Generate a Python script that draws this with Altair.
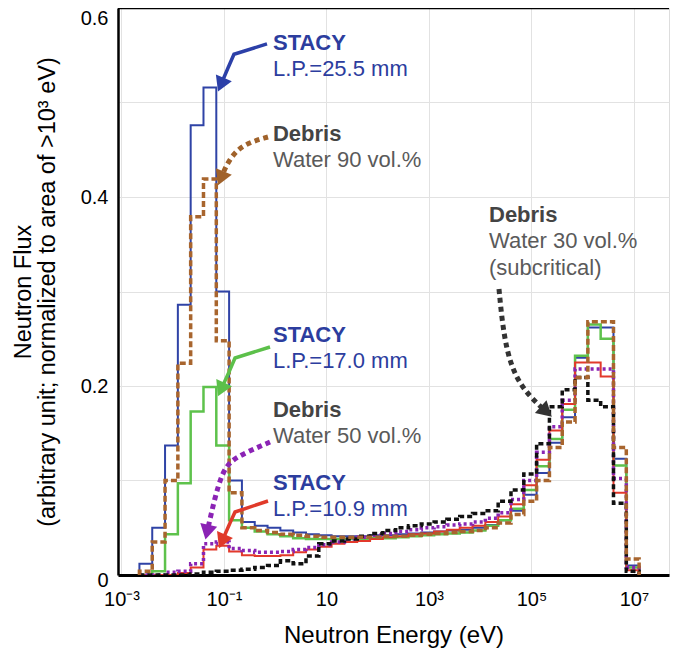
import math
import altair as alt
import pandas as pd

# ---------------- data ----------------
# energy-group edges, log10(E / eV)
log_edges = [-2.65, -2.40, -2.15, -1.90, -1.65, -1.40, -1.15, -0.90, -0.65, -0.40,
             -0.15, 0.10, 0.35, 0.60, 0.85, 1.10, 1.35, 1.60, 1.85, 2.10,
             2.35, 2.60, 2.85, 3.10, 3.35, 3.60, 3.85, 4.10, 4.35, 4.60,
             4.85, 5.10, 5.35, 5.60, 5.85, 6.10, 6.35, 6.60, 6.85, 7.10]

stacy_255 = [0.012, 0.050, 0.137, 0.286, 0.476, 0.516, 0.300, 0.100, 0.056, 0.052,
             0.050, 0.047, 0.045, 0.043, 0.042, 0.041, 0.041, 0.041, 0.042, 0.042,
             0.043, 0.044, 0.045, 0.046, 0.047, 0.048, 0.050, 0.053, 0.058, 0.068,
             0.085, 0.108, 0.140, 0.167, 0.230, 0.262, 0.262, 0.123, 0.010]
debris_90 = [0.004, 0.035, 0.100, 0.224, 0.379, 0.419, 0.248, 0.087, 0.050, 0.047,
             0.045, 0.043, 0.042, 0.041, 0.040, 0.040, 0.040, 0.040, 0.040, 0.041,
             0.041, 0.042, 0.043, 0.044, 0.045, 0.046, 0.047, 0.050, 0.055, 0.064,
             0.078, 0.100, 0.135, 0.162, 0.209, 0.268, 0.268, 0.135, 0.017]
stacy_170 = [0.000, 0.004, 0.043, 0.097, 0.173, 0.199, 0.137, 0.058, 0.050, 0.046,
             0.043, 0.041, 0.039, 0.038, 0.038, 0.038, 0.038, 0.038, 0.039, 0.039,
             0.040, 0.041, 0.042, 0.043, 0.044, 0.045, 0.047, 0.052, 0.058, 0.070,
             0.090, 0.115, 0.144, 0.175, 0.232, 0.265, 0.250, 0.116, 0.008]
stacy_109 = [0.000, 0.000, 0.000, 0.002, 0.008, 0.027, 0.031, 0.025, 0.021, 0.020,
             0.020, 0.021, 0.024, 0.027, 0.030, 0.033, 0.035, 0.036, 0.038, 0.040,
             0.041, 0.043, 0.044, 0.046, 0.048, 0.050, 0.052, 0.056, 0.062, 0.075,
             0.095, 0.122, 0.153, 0.181, 0.225, 0.225, 0.210, 0.087, 0.005]
debris_50 = [0.000, 0.000, 0.003, 0.004, 0.012, 0.033, 0.035, 0.028, 0.026, 0.024,
             0.024, 0.025, 0.027, 0.029, 0.032, 0.035, 0.038, 0.040, 0.042, 0.044,
             0.046, 0.048, 0.050, 0.051, 0.053, 0.054, 0.056, 0.060, 0.066, 0.080,
             0.100, 0.130, 0.157, 0.185, 0.218, 0.218, 0.218, 0.102, 0.008]
debris_30 = [0.000, 0.000, 0.000, 0.000, 0.001, 0.003, 0.004, 0.005, 0.006, 0.008,
             0.010, 0.015, 0.012, 0.020, 0.033, 0.036, 0.038, 0.041, 0.044, 0.047,
             0.050, 0.052, 0.054, 0.056, 0.059, 0.062, 0.065, 0.068, 0.078, 0.090,
             0.107, 0.139, 0.178, 0.196, 0.209, 0.185, 0.178, 0.076, 0.004]

x_tick_exps = [-3, -1, 1, 3, 5, 7]
x_tick_labels = ["10⁻³", "10⁻¹", "10", "10³", "10⁵", "10⁷"]
y_ticks = [0, 0.1, 0.2, 0.3, 0.4, 0.5, 0.6]

# annotations: (log10 E, flux, bold line, normal line(s), colours)
BLUE_T = "#2c3d9e"
GRAY_B = "#444444"
GRAY_N = "#5a5a5a"
labels = [
    (-0.044, 0.563, "STACY", ["L.P.=25.5 mm"], BLUE_T, BLUE_T),
    (-0.044, 0.4667, "Debris", ["Water 90 vol.%"], GRAY_B, GRAY_N),
    (-0.044, 0.254, "STACY", ["L.P.=17.0 mm"], BLUE_T, BLUE_T),
    (-0.044, 0.1746, "Debris", ["Water 50 vol.%"], GRAY_B, GRAY_N),
    (-0.044, 0.0974, "STACY", ["L.P.=10.9 mm"], BLUE_T, BLUE_T),
    (4.171, 0.381, "Debris", ["Water 30 vol.%", "(subcritical)"], GRAY_B, GRAY_N),
]
LINE_STEP = 0.028

# arrows: path in (log10 E, flux), colour, dotted?
arrows = [
    ([(-0.161, 0.562), (-0.805, 0.551), (-0.922, 0.5365), (-1.098, 0.514)], "#2c40a8", False),
    ([(-0.141, 0.4635), (-0.629, 0.456), (-0.902, 0.440), (-1.098, 0.4148)], "#a0622b", True),
    ([(-0.102, 0.2413), (-0.785, 0.2296), (-0.902, 0.2148), (-1.098, 0.1915)], "#5cc04a", False),
    ([(-0.102, 0.1407), (-0.551, 0.1302), (-0.883, 0.1206), (-1.039, 0.1069), (-1.176, 0.0825), (-1.351, 0.0402)], "#8b23b5", True),
    ([(-0.141, 0.0783), (-0.785, 0.0667), (-0.883, 0.055), (-1.078, 0.0307)], "#e03a2a", False),
    ([(4.366, 0.3026), (4.424, 0.2698), (4.522, 0.236), (4.698, 0.2085), (4.971, 0.1884), (5.361, 0.1693)], "#333333", True),
]

# ---------------- layout ----------------
W, H = 551, 567
X_LO = -3.068
X_HI = X_LO + W / 51.25
FONT = "Liberation Sans"

x_scale = alt.Scale(type="log", domain=[10 ** X_LO, 10 ** X_HI], nice=False)
y_scale = alt.Scale(domain=[0, 0.6], nice=False, zero=True)

label_arr = "[" + ",".join("'%s'" % s for s in
                           ["10⁻³", "", "10⁻¹", "", "10", "", "10³", "", "10⁵", "", "10⁷"]) + "]"
x_axis = alt.Axis(
    values=[10.0 ** e for e in x_tick_exps],
    labelExpr=label_arr + "[round(log(datum.value)/LN10)+3]",
    title="Neutron Energy (eV)",
    grid=True, gridColor="#e2e2e2", gridWidth=1,
    ticks=False, domainColor="black", domainWidth=3,
    labelFont=FONT, labelFontSize=20, labelColor="black", labelPadding=14,
    titleFont=FONT, titleFontSize=24, titleFontWeight="normal", titleColor="black",
    titlePadding=14, labelFlush=False,
)
y_axis = alt.Axis(
    values=y_ticks, format=".1~f",
    labelExpr="(datum.label == '0.1' || datum.label == '0.3' || datum.label == '0.5') ? '' : datum.label",
    labelOffset={"condition": [{"test": "datum.value > 0.55", "value": 10},
                               {"test": "datum.value < 0.05", "value": 5}],
                 "value": 0},
    title=["Neutron Flux", "(arbitrary unit; normalized to area of >10³ eV)"],
    grid=True, gridColor="#e2e2e2", gridWidth=1,
    ticks=False, domainColor="black", domainWidth=2.5,
    labelFont=FONT, labelFontSize=20, labelColor="black", labelPadding=10,
    titleFont=FONT, titleFontSize=23.5, titleFontWeight="normal", titleColor="black",
    titlePadding=21, titleLineHeight=24,
)


def X():
    return alt.X("E:Q", scale=x_scale, axis=x_axis)


def Y():
    return alt.Y("f:Q", scale=y_scale, axis=y_axis)


def step_frame(vals):
    rows = [{"i": 0, "E": 10 ** log_edges[0], "f": 0.0}]
    for k, v in enumerate(vals):
        rows.append({"i": k + 1, "E": 10 ** log_edges[k], "f": v})
    rows.append({"i": len(vals) + 1, "E": 10 ** log_edges[-1], "f": 0.0})
    return pd.DataFrame(rows)


series = [
    (stacy_255, "#2f43a6", 2.0, None),
    (stacy_170, "#5ec24c", 2.5, None),
    (stacy_109, "#e2392b", 2.0, None),
    (debris_50, "#8a25b3", 3.5, [3, 3]),
    (debris_30, "#111111", 3.5, [5, 3]),
    (debris_90, "#a8652e", 3.5, [6, 3]),
]

layers = []
for vals, col, sw, dash in series:
    kw = dict(interpolate="step-after", color=col, strokeWidth=sw, strokeCap="butt", clip=True)
    if dash:
        kw["strokeDash"] = dash
    layers.append(
        alt.Chart(step_frame(vals)).mark_line(**kw).encode(x=X(), y=Y(), order="i:Q")
    )


# ---- arrows ----
def to_px(le, f):
    return ((le - X_LO) / (X_HI - X_LO) * W, H - f / 0.6 * H)


def to_data(px, py):
    return (X_LO + px / W * (X_HI - X_LO), (H - py) / H * 0.6)


HEAD_SIZE = 300
hh = math.sqrt(3) / 2 * math.sqrt(HEAD_SIZE) / 2
for path, col, dotted in arrows:
    p0 = to_px(*path[-2])
    p1 = to_px(*path[-1])
    dx, dy = p1[0] - p0[0], p1[1] - p0[1]
    n = math.hypot(dx, dy)
    ux, uy = dx / n, dy / n
    ang = math.degrees(math.atan2(ux, -uy)) % 360
    hc = to_data(p1[0] - ux * hh, p1[1] - uy * hh)
    lend = to_data(p1[0] - ux * hh * 0.9, p1[1] - uy * hh * 0.9)
    pts = list(path[:-1]) + [lend]
    ldf = pd.DataFrame({"i": list(range(len(pts))),
                        "E": [10 ** p[0] for p in pts],
                        "f": [p[1] for p in pts]})
    kw = dict(color=col, strokeWidth=5 if dotted else 3.5,
              interpolate="basis" if dotted else "linear")
    if dotted:
        kw["strokeDash"] = [5, 4]
    layers.append(alt.Chart(ldf).mark_line(**kw).encode(x=X(), y=Y(), order="i:Q"))
    hdf = pd.DataFrame({"E": [10 ** hc[0]], "f": [hc[1]], "ang": [ang]})
    layers.append(
        alt.Chart(hdf).mark_point(shape="triangle", filled=True, size=HEAD_SIZE,
                                  color=col, opacity=1, strokeWidth=0)
        .encode(x=X(), y=Y(), angle=alt.Angle("ang:Q", scale=None))
    )

# ---- annotation text ----
bold_rows, norm_rows = [], []
for le, f, b, lines, cb, cn in labels:
    bold_rows.append({"E": 10 ** le, "f": f, "t": b, "c": cb})
    for j, ln in enumerate(lines):
        norm_rows.append({"E": 10 ** le, "f": f - LINE_STEP * (j + 1), "t": ln, "c": cn})

layers.append(
    alt.Chart(pd.DataFrame(bold_rows)).mark_text(
        align="left", baseline="middle", font=FONT, fontSize=22, fontWeight="bold")
    .encode(x=X(), y=Y(), text="t:N", color=alt.Color("c:N", scale=None))
)
layers.append(
    alt.Chart(pd.DataFrame(norm_rows)).mark_text(
        align="left", baseline="middle", font=FONT, fontSize=22, fontWeight="normal")
    .encode(x=X(), y=Y(), text="t:N", color=alt.Color("c:N", scale=None))
)

# top frame line
layers.append(
    alt.Chart(pd.DataFrame({"a": [0]})).mark_rule(color="black", strokeWidth=2.5)
    .encode(x=alt.value(0), x2=alt.value(W), y=alt.value(0))
)

chart = alt.layer(*layers).properties(
    width=W, height=H,
    autosize=alt.AutoSizeParams(type="none"),
    padding={"left": 110, "top": 0, "right": 2, "bottom": 74},
).configure_view(stroke=None).configure(background="white")

chart.save("out.html", embed_options={"renderer": "svg", "actions": False})
